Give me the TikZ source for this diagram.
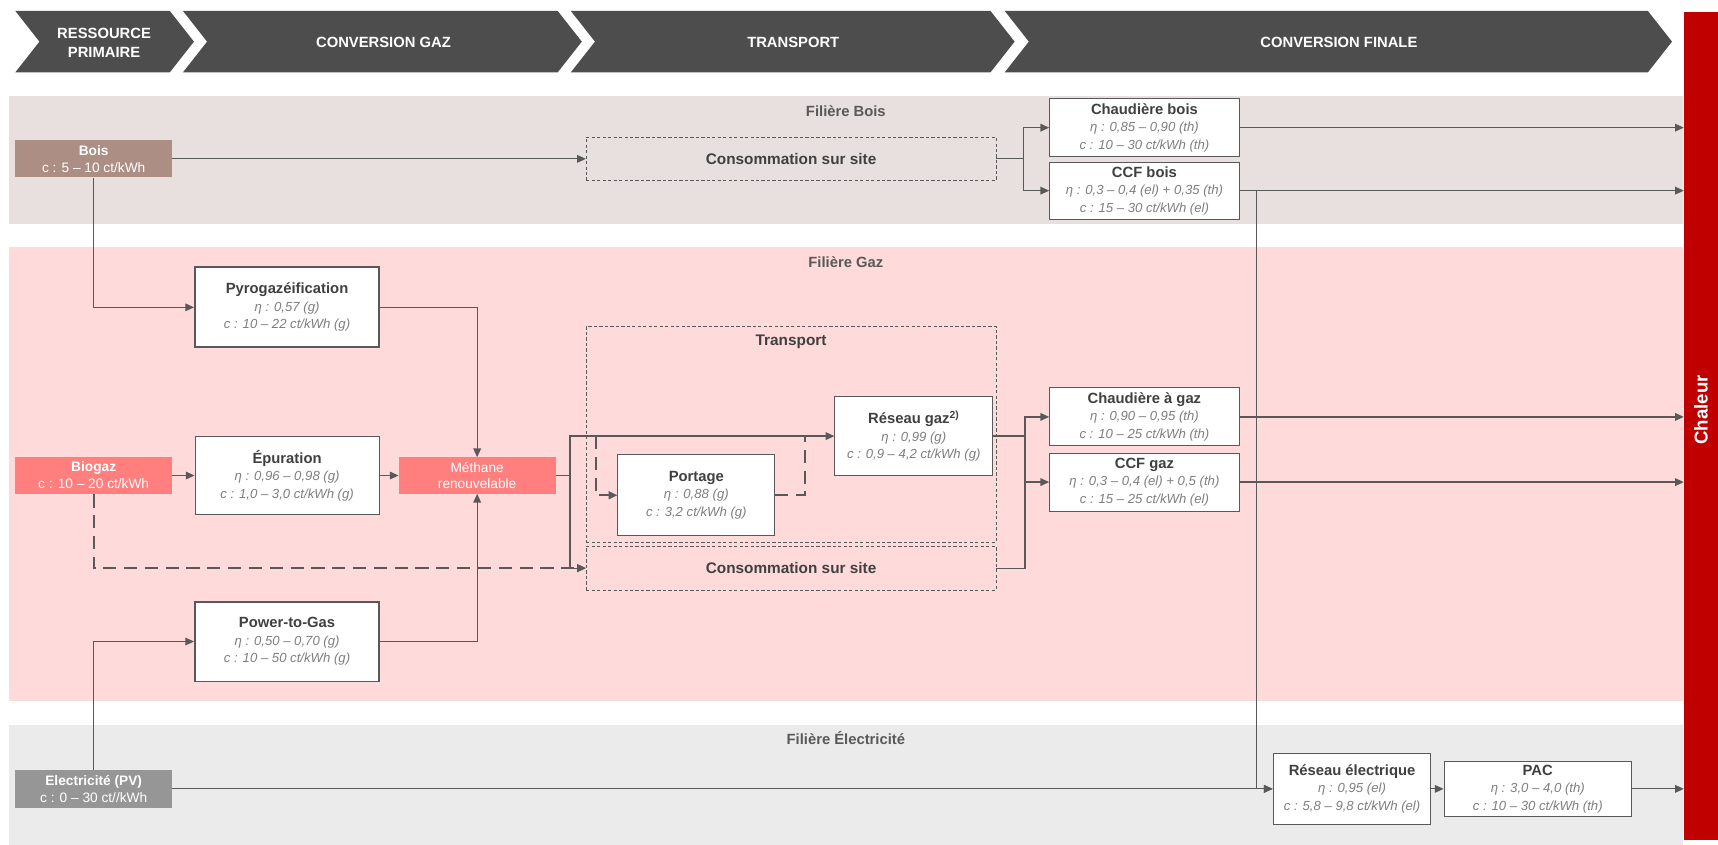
\documentclass[tikz,border=0pt]{standalone}
\usepackage{fontspec}
\setmainfont{Liberation Sans}
\usepackage{tikz}
\usetikzlibrary{arrows.meta}
\definecolor{headgray}{HTML}{4D4D4D}
\definecolor{boisbg}{HTML}{E8E0DE}
\definecolor{gazbg}{HTML}{FFDADA}
\definecolor{elecbg}{HTML}{EBEBEB}
\definecolor{boisfill}{HTML}{AD8E85}
\definecolor{gazfill}{HTML}{FF7F7F}
\definecolor{elecfill}{HTML}{969696}
\definecolor{chaleurred}{HTML}{C00000}
\definecolor{linegray}{HTML}{595959}
\definecolor{titlegray}{HTML}{404040}
\definecolor{subgray}{HTML}{7F7F7F}
\newcommand{\proctitle}[1]{{\fontsize{13.5}{16}\selectfont\bfseries #1}}
\newcommand{\procline}[1]{{\fontsize{12}{16}\selectfont\itshape\color{subgray}#1}}
\tikzstyle{proc}=[draw=linegray, line width=0.9pt, fill=white, inner sep=0pt, align=center, text=titlegray, font=\fontsize{12}{16}\selectfont]
\tikzstyle{bproc}=[proc, line width=1.8pt]
\tikzstyle{source}=[inner sep=0pt, align=center, text=white, minimum width=143pt, minimum height=34pt, font=\fontsize{12.5}{15.5}\selectfont]
\tikzstyle{site}=[draw=linegray, line width=0.6pt, dash pattern=on 3pt off 2pt, inner sep=0pt, minimum width=374pt, minimum height=40pt, text=titlegray, font=\fontsize{14}{16}\selectfont\bfseries]
\tikzstyle{headtxt}=[text=white, align=center, font=\fontsize{13.5}{17}\selectfont\bfseries]
\tikzstyle{bandtitle}=[text=linegray, font=\fontsize{13.5}{16}\selectfont\bfseries]
\tikzstyle{link}=[draw=linegray, line width=1.1pt]
\tikzstyle{flow}=[link, -{Triangle[length=8pt,width=7pt]}]
\tikzstyle{dlink}=[link, line width=1.8pt, dash pattern=on 12pt off 7pt]
\tikzstyle{dflow}=[dlink, -{Triangle[length=8pt,width=7pt]}]

\begin{document}
\begin{tikzpicture}[x=1pt, y=-1pt]
        \useasboundingbox (0,0) rectangle (1568,771);
        \fill[headgray] (14,10) -- (155,10) -- (177,38) -- (155,66) -- (14,66) -- (36,38) -- cycle;
        \fill[headgray] (167,10) -- (509,10) -- (531,38) -- (509,66) -- (167,66) -- (189,38) -- cycle;
        \fill[headgray] (521,10) -- (904,10) -- (926,38) -- (904,66) -- (521,66) -- (543,38) -- cycle;
        \fill[headgray] (917,10) -- (1504,10) -- (1526,38) -- (1504,66) -- (917,66) -- (939,38) -- cycle;
        \node[headtxt] (h1) at (95,39) {RESSOURCE\\PRIMAIRE};
        \node[headtxt] (h2) at (350,39) {CONVERSION GAZ};
        \node[headtxt] (h3) at (724,39) {TRANSPORT};
        \node[headtxt] (h4) at (1222,39) {CONVERSION FINALE};

        \fill[boisbg] (8,88) rectangle (1536,204);
        \fill[gazbg] (8,225) rectangle (1536,640);
        \fill[elecbg] (8,662) rectangle (1536,771);
        \node[bandtitle] (boistitle) at (772,101) {Filière Bois};
        \node[bandtitle] (gaztitle) at (772,239) {Filière Gaz};
        \node[bandtitle] (electitle) at (772,674) {Filière Électricité};

        \node[fill=chaleurred, minimum width=31pt, minimum height=756pt, inner sep=0pt] (chaleur) at (1552.5,389) {};
        \node[rotate=90, text=white, font=\fontsize{17}{20}\selectfont\bfseries] (chaleurtxt) at (1552.5,374) {Chaleur};

        \node[source, fill=boisfill] (bois) at (85.5,145) {\textbf{Bois}\\c : 5 – 10 ct/kWh};
        \node[source, fill=gazfill] (biogaz) at (85.5,434) {\textbf{Biogaz}\\c : 10 – 20 ct/kWh};
        \node[source, fill=elecfill] (elec) at (85.5,720) {\textbf{Electricité (PV)}\\c : 0 – 30 ct//kWh};

        \node[bproc, minimum width=168pt, minimum height=73pt] (pyro) at (262,280.5) {\proctitle{Pyrogazéification}\\\procline{η : 0,57 (g)}\\\procline{c : 10 – 22 ct/kWh (g)}};
        \node[proc, minimum width=168pt, minimum height=72pt] (epur) at (262,434) {\proctitle{Épuration}\\\procline{η : 0,96 – 0,98 (g)}\\\procline{c : 1,0 – 3,0 ct/kWh (g)}};
        \node[bproc, minimum width=168pt, minimum height=73pt] (ptg) at (262,585.5) {\proctitle{Power-to-Gas}\\\procline{η : 0,50 – 0,70 (g)}\\\procline{c : 10 – 50 ct/kWh (g)}};
        \node[source, fill=gazfill, minimum height=33pt, font=\fontsize{12.5}{15}\selectfont] (methane) at (435.5,434) {Méthane\\renouvelable};

        \node[site] (consobois) at (722,145) {Consommation sur site};
        \node[site, minimum height=197pt] (transport) at (722,396.5) {};
        \node[bandtitle, text=titlegray, font=\fontsize{14}{16}\selectfont\bfseries] (transportlbl) at (722,312) {Transport};
        \node[site] (consogaz) at (722,518.5) {Consommation sur site};
        \node[proc, minimum width=143pt, minimum height=74pt] (portage) at (635.5,452) {\proctitle{Portage}\\\procline{η : 0,88 (g)}\\\procline{c : 3,2 ct/kWh (g)}};
        \node[proc, minimum width=144pt, minimum height=72pt] (reseaugaz) at (834,398) {\proctitle{Réseau gaz\textsuperscript{2)}}\\\procline{η : 0,99 (g)}\\\procline{c : 0,9 – 4,2 ct/kWh (g)}};

        \node[proc, minimum width=173pt, minimum height=53pt] (chaudbois) at (1044.5,116.5) {\proctitle{Chaudière bois}\\\procline{η : 0,85 – 0,90 (th)}\\\procline{c : 10 – 30 ct/kWh (th)}};
        \node[proc, minimum width=173pt, minimum height=52pt] (ccfbois) at (1044.5,174) {\proctitle{CCF bois}\\\procline{η : 0,3 – 0,4 (el) + 0,35 (th)}\\\procline{c : 15 – 30 ct/kWh (el)}};
        \node[proc, minimum width=173pt, minimum height=53pt] (chaudgaz) at (1044.5,380.5) {\proctitle{Chaudière à gaz}\\\procline{η : 0,90 – 0,95 (th)}\\\procline{c : 10 – 25 ct/kWh (th)}};
        \node[proc, minimum width=173pt, minimum height=53pt] (ccfgaz) at (1044.5,440) {\proctitle{CCF gaz}\\\procline{η : 0,3 – 0,4 (el) + 0,5 (th)}\\\procline{c  : 15 – 25 ct/kWh (el)}};
        \node[proc, minimum width=144pt, minimum height=65pt] (reselec) at (1234,720) {\proctitle{Réseau électrique}\\\procline{η : 0,95 (el)}\\\procline{c : 5,8 – 9,8 ct/kWh (el)}};
        \node[proc, minimum width=171pt, minimum height=50pt] (pac) at (1403.5,720) {\proctitle{PAC}\\\procline{η : 3,0 – 4,0 (th)}\\\procline{c : 10 – 30 ct/kWh (th)}};

        \coordinate (boisfork) at ([xshift=25pt]consobois.east);
        \coordinate (mfork) at ([xshift=13pt]methane.east);
        \coordinate (gfork) at ([xshift=29pt]reseaugaz.east);
        \coordinate (elfork) at ([xshift=15pt]ccfbois.east);
        \coordinate (pin) at (544,398);
        \coordinate (pout) at (735,398);

        \draw[flow] (bois.east) -- (consobois.west);
        \draw[link] (consobois.east) -- (boisfork);
        \draw[flow] (boisfork) |- (chaudbois.west);
        \draw[flow] (boisfork) |- (ccfbois.west);
        \draw[flow] (chaudbois.east) -- (chaudbois.east -| chaleur.west);
        \draw[flow] (ccfbois.east) -- (ccfbois.east -| chaleur.west);
        \draw[flow] (elfork) |- (reselec.west);

        \draw[flow] (bois.south) |- (pyro.west);
        \draw[flow] (biogaz.east) -- (epur.west);
        \draw[flow] (elec.north) |- (ptg.west);
        \draw[flow] (pyro.east) -| (methane.north);
        \draw[flow] (epur.east) -- (methane.west);
        \draw[flow] (ptg.east) -| (methane.south);
        \draw[dflow] (biogaz.south) |- (consogaz.west);

        \draw[link] (methane.east) -- (mfork);
        \draw[flow] (mfork) |- (reseaugaz.west);
        \draw[flow] (mfork) |- (consogaz.west);
        \draw[dflow] (pin) |- (portage.west);
        \draw[dlink] (portage.east) -| (pout);

        \draw[link] (reseaugaz.east) -- (gfork);
        \draw[link] (consogaz.east) -| (gfork);
        \draw[flow] (gfork) |- (chaudgaz.west);
        \draw[flow] (gfork) |- (ccfgaz.west);
        \draw[flow] (chaudgaz.east) -- (chaudgaz.east -| chaleur.west);
        \draw[flow] (ccfgaz.east) -- (ccfgaz.east -| chaleur.west);

        \draw[flow] (elec.east) -- (reselec.west);
        \draw[flow] (reselec.east) -- (pac.west);
        \draw[flow] (pac.east) -- (pac.east -| chaleur.west);
    \end{tikzpicture}
\end{document}
